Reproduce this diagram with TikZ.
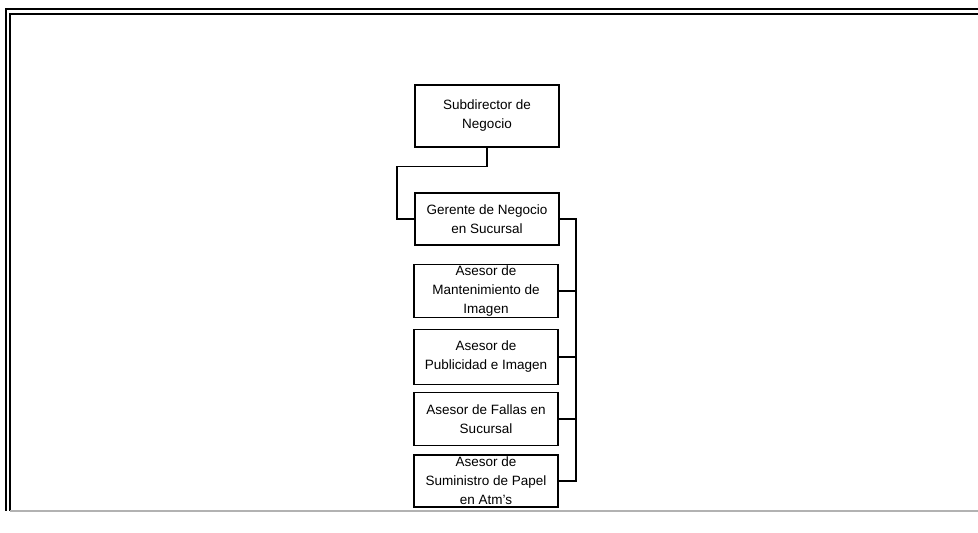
\documentclass[tikz,border=0pt]{standalone}
\usepackage{fontspec}
\setmainfont{Liberation Sans}
\begin{document}
\begin{tikzpicture}[x=1pt,y=-1pt,
  post/.style={draw, line width=1.2pt, minimum width=144pt, align=center, inner sep=0pt,
    font=\fontsize{13.5}{19}\selectfont},
  link/.style={line width=1.3pt},
  frame/.style={line width=1.3pt}]
\useasboundingbox (0,0) rectangle (978,533);
% page frame
\draw[frame] (978,9) -- (6,9) -- (6,511);
\draw[frame] (978,14) -- (10,14) -- (10,511);
\draw[frame, gray!60] (10,511) -- (978,511);
% posts
\node[post, minimum height=62pt] (sub) at (487,116) {Subdirector de\\Negocio};
\node[post, minimum height=52pt] (ger) at (487,219) {Gerente de Negocio\\en Sucursal};
\node[post, minimum height=53pt] (a1) at (486,291) {Asesor de\\Mantenimiento de\\Imagen};
\node[post, minimum height=55pt] (a2) at (486,357) {Asesor de\\Publicidad e Imagen};
\node[post, minimum height=53pt] (a3) at (486,419) {Asesor de Fallas en\\Sucursal};
\node[post, minimum height=52pt] (a4) at (486,481) {Asesor de\\Suministro de Papel\\en Atm's};
% connectors
\coordinate (bus) at (576,0);
\draw[link] (sub.south) -- ++(0,19) -| (397,219) -- (ger.west);
\draw[link] (ger.east) -- (bus |- ger.east) -- (bus |- a4.east) -- (a4.east);
\foreach \n in {a1,a2,a3}
  \draw[link] (\n.east) -- (bus |- \n.east);
\end{tikzpicture}
\end{document}
